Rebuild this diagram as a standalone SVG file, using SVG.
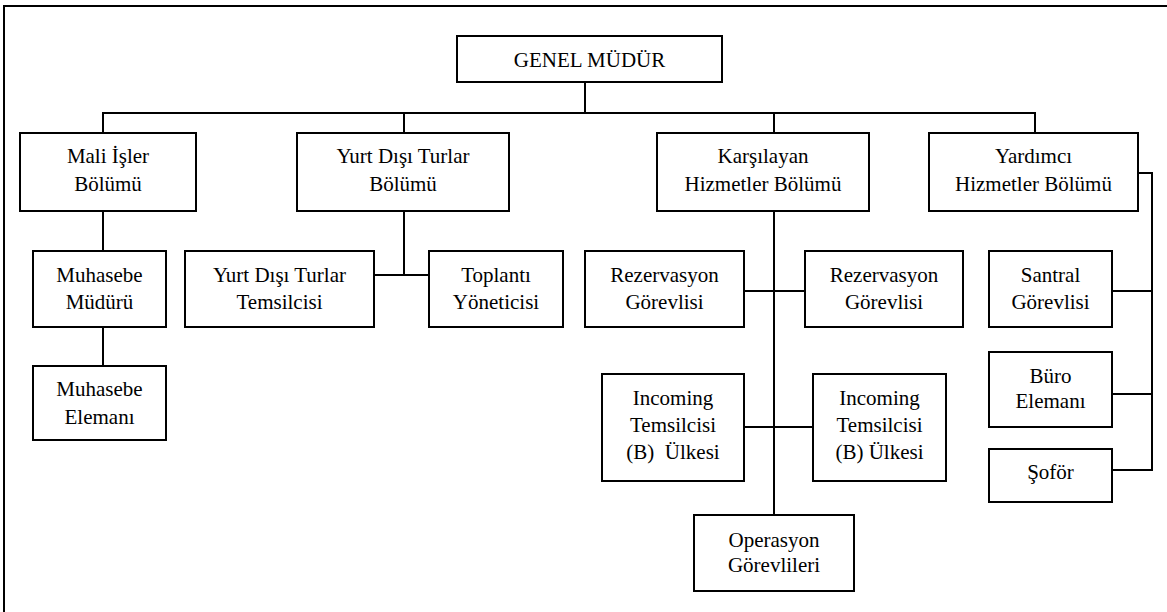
<svg xmlns="http://www.w3.org/2000/svg" width="1167" height="612" viewBox="0 0 1167 612">
<style>
.b{fill:#fff;stroke:#000;stroke-width:2}
.t{font-family:'Liberation Serif','Times New Roman','DejaVu Serif',serif;font-size:21px;fill:#000;text-anchor:middle}
.c{fill:none;stroke:#000;stroke-width:2}
</style>
<rect width="1167" height="612" fill="#fff"/>
<path class="c" d="M4,612 V6 H1167"/>
<g id="connectors">
<path class="c" d="M585,82 V113 M103,133 V113 H1035 V133 M404,113 V133 M774,113 V133"/>
<path class="c" d="M103,211 V251 M103,327 V366"/>
<path class="c" d="M404,211 V275 M374,275 H429"/>
<path class="c" d="M774,211 V515 M744,291 H805 M744,427 H813"/>
<path class="c" d="M1138,173 H1152 V470 H1112 M1112,291 H1152 M1112,394 H1152"/>
</g>
<g id="genel"><rect class="b" x="457" y="36" width="265" height="46"/><text class="t" x="589.5" y="67" font-family="Liberation Serif, serif">GENEL MÜDÜR</text></g>
<g id="mali"><rect class="b" x="20" y="133" width="176" height="78"/><text class="t" x="108" y="163">Mali İşler</text><text class="t" x="108" y="191">Bölümü</text></g>
<g id="yurtdisi"><rect class="b" x="297" y="133" width="212" height="78"/><text class="t" x="403" y="163">Yurt Dışı Turlar</text><text class="t" x="403" y="191">Bölümü</text></g>
<g id="karsilayan"><rect class="b" x="657" y="133" width="212" height="78"/><text class="t" x="763" y="163">Karşılayan</text><text class="t" x="763" y="191">Hizmetler Bölümü</text></g>
<g id="yardimci"><rect class="b" x="929" y="133" width="209" height="78"/><text class="t" x="1033.5" y="163">Yardımcı</text><text class="t" x="1033.5" y="191">Hizmetler Bölümü</text></g>
<g id="muhmudur"><rect class="b" x="33" y="251" width="133" height="76"/><text class="t" x="99.5" y="282">Muhasebe</text><text class="t" x="99.5" y="309">Müdürü</text></g>
<g id="muheleman"><rect class="b" x="33" y="366" width="133" height="74"/><text class="t" x="99.5" y="396">Muhasebe</text><text class="t" x="99.5" y="424">Elemanı</text></g>
<g id="temsilci"><rect class="b" x="185" y="251" width="189" height="76"/><text class="t" x="279.5" y="282">Yurt Dışı Turlar</text><text class="t" x="279.5" y="309">Temsilcisi</text></g>
<g id="toplanti"><rect class="b" x="429" y="251" width="134" height="76"/><text class="t" x="496" y="282">Toplantı</text><text class="t" x="496" y="309">Yöneticisi</text></g>
<g id="rez1"><rect class="b" x="585" y="251" width="159" height="76"/><text class="t" x="664.5" y="282">Rezervasyon</text><text class="t" x="664.5" y="309">Görevlisi</text></g>
<g id="rez2"><rect class="b" x="805" y="251" width="158" height="76"/><text class="t" x="884" y="282">Rezervasyon</text><text class="t" x="884" y="309">Görevlisi</text></g>
<g id="inc1"><rect class="b" x="602" y="374" width="142" height="107"/><text class="t" x="673" y="405">Incoming</text><text class="t" x="673" y="432">Temsilcisi</text><text class="t" x="673" y="459" xml:space="preserve">(B)  Ülkesi</text></g>
<g id="inc2"><rect class="b" x="813" y="374" width="133" height="107"/><text class="t" x="879.5" y="405">Incoming</text><text class="t" x="879.5" y="432">Temsilcisi</text><text class="t" x="879.5" y="459">(B) Ülkesi</text></g>
<g id="operasyon"><rect class="b" x="694" y="515" width="160" height="76"/><text class="t" x="774" y="547">Operasyon</text><text class="t" x="774" y="572">Görevlileri</text></g>
<g id="santral"><rect class="b" x="989" y="251" width="123" height="76"/><text class="t" x="1050.5" y="282">Santral</text><text class="t" x="1050.5" y="309">Görevlisi</text></g>
<g id="buro"><rect class="b" x="989" y="352" width="123" height="75"/><text class="t" x="1050.5" y="383">Büro</text><text class="t" x="1050.5" y="408">Elemanı</text></g>
<g id="sofor"><rect class="b" x="989" y="449" width="123" height="53"/><text class="t" x="1050.5" y="479">Şoför</text></g>
</svg>
